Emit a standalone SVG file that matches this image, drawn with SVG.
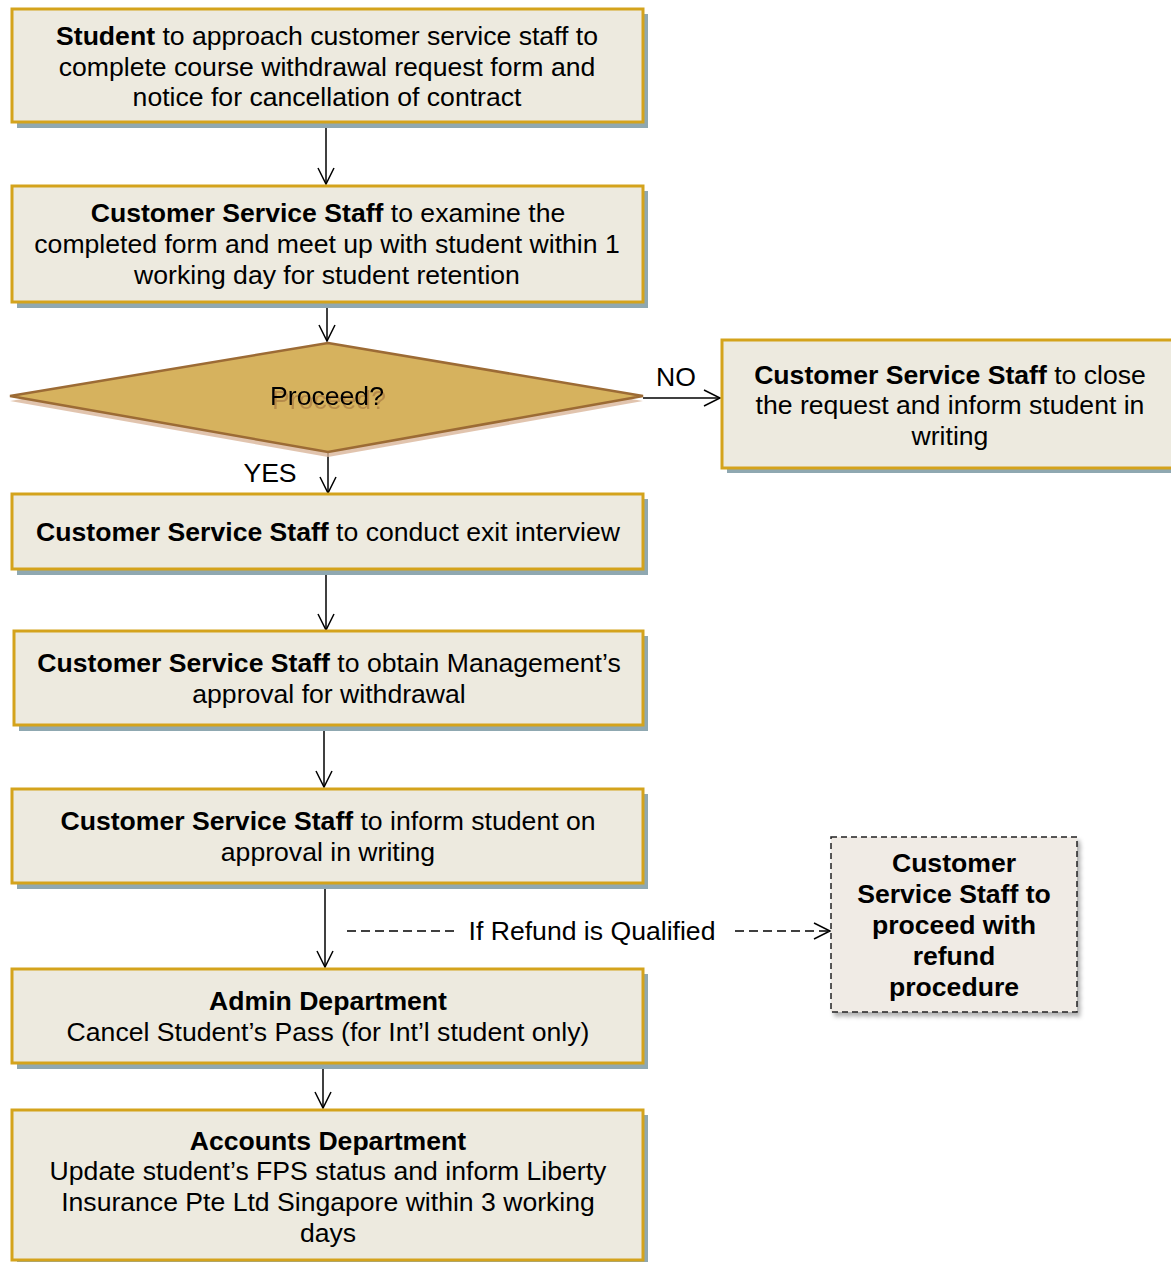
<svg xmlns="http://www.w3.org/2000/svg" width="1171" height="1262" viewBox="0 0 1171 1262">
<defs>
<style>
.box{fill:#edeadf;stroke:#d4a31c;stroke-width:3}
.shd{fill:#8fa8b1}
.t{font-family:"Liberation Sans",Arial,sans-serif;font-size:26.6px;fill:#000;text-anchor:middle}
.b{font-weight:bold}
.c{stroke:#000;stroke-width:1.5;fill:none}
.d{stroke:#000;stroke-width:1.5;fill:none;stroke-dasharray:9,5}
</style>
<marker id="ah" viewBox="0 0 20 20" refX="18" refY="10" markerWidth="20" markerHeight="20" markerUnits="userSpaceOnUse" orient="auto">
<path d="M2,2 L18,10 L2,18" fill="none" stroke="#000" stroke-width="1.5"/>
</marker>
<filter id="tsh" x="-20%" y="-50%" width="140%" height="200%">
<feDropShadow dx="2" dy="4" stdDeviation="0.6" flood-color="#a0703a" flood-opacity="0.6"/>
</filter>
<filter id="bsh" x="-10%" y="-10%" width="130%" height="130%">
<feDropShadow dx="3" dy="4" stdDeviation="2" flood-color="#000" flood-opacity="0.3"/>
</filter>
</defs>
<rect width="1171" height="1262" fill="#fff"/>
<g id="connectors">
<line class="c" x1="326" y1="122" x2="326" y2="184" marker-end="url(#ah)"/>
<line class="c" x1="327" y1="302" x2="327" y2="341" marker-end="url(#ah)"/>
<line class="c" x1="328" y1="452" x2="328" y2="493" marker-end="url(#ah)"/>
<line class="c" x1="643" y1="398" x2="720" y2="398" marker-end="url(#ah)"/>
<line class="c" x1="326" y1="569" x2="326" y2="630" marker-end="url(#ah)"/>
<line class="c" x1="324" y1="726" x2="324" y2="787" marker-end="url(#ah)"/>
<line class="c" x1="325" y1="883" x2="325" y2="967" marker-end="url(#ah)"/>
<line class="c" x1="323" y1="1064" x2="323" y2="1108" marker-end="url(#ah)"/>
<line class="d" x1="347" y1="931" x2="455" y2="931"/>
<line class="d" x1="735" y1="931" x2="830" y2="931" marker-end="url(#ah)"/>
<text class="t" x="676" y="386">NO</text>
<text class="t" x="270" y="482">YES</text>
<text class="t" x="592" y="940">If Refund is Qualified</text>
</g>
<g id="n1">
<rect class="shd" x="17" y="14" width="631" height="114"/>
<rect class="box" x="12" y="9" width="631" height="113"/>
<text class="t" x="327" y="45"><tspan class="b">Student</tspan> to approach customer service staff to</text>
<text class="t" x="327" y="76">complete course withdrawal request form and</text>
<text class="t" x="327" y="106">notice for cancellation of contract</text>
</g>
<g id="n2">
<rect class="shd" x="17" y="191" width="631" height="117"/>
<rect class="box" x="12" y="186" width="631" height="116"/>
<text class="t" x="328" y="222"><tspan class="b">Customer Service Staff</tspan> to examine the</text>
<text class="t" x="327" y="253">completed form and meet up with student within 1</text>
<text class="t" x="327" y="284">working day for student retention</text>
</g>
<g id="decision">
<polygon points="328,348 643,401 328,457 10,401" fill="#d9b59a" opacity="0.8"/>
<polygon points="328,343 643,396 328,452 10,396" fill="#d6b25e" stroke="#9c6b35" stroke-width="2.5"/>
<text class="t" x="327" y="405" filter="url(#tsh)">Proceed?</text>
</g>
<g id="n_close">
<rect class="shd" x="727" y="345" width="450" height="128"/>
<rect class="box" x="722" y="340" width="460" height="128"/>
<text class="t" x="950" y="384"><tspan class="b">Customer Service Staff</tspan> to close</text>
<text class="t" x="950" y="414">the request and inform student in</text>
<text class="t" x="950" y="445">writing</text>
</g>
<g id="n3">
<rect class="shd" x="17" y="499" width="631" height="76"/>
<rect class="box" x="12" y="494" width="631" height="75"/>
<text class="t" x="328" y="541"><tspan class="b">Customer Service Staff</tspan> to conduct exit interview</text>
</g>
<g id="n4">
<rect class="shd" x="19" y="636" width="629" height="95"/>
<rect class="box" x="14" y="631" width="629" height="94"/>
<text class="t" x="329" y="672"><tspan class="b">Customer Service Staff</tspan> to obtain Management’s</text>
<text class="t" x="329" y="703">approval for withdrawal</text>
</g>
<g id="n5">
<rect class="shd" x="17" y="794" width="631" height="95"/>
<rect class="box" x="12" y="789" width="631" height="94"/>
<text class="t" x="328" y="830"><tspan class="b">Customer Service Staff</tspan> to inform student on</text>
<text class="t" x="328" y="861">approval in writing</text>
</g>
<g id="n_refund">
<rect x="831" y="837" width="246" height="175" fill="#f0ebe5" stroke="#222" stroke-width="1.5" stroke-dasharray="6,4" filter="url(#bsh)"/>
<text class="t b" x="954" y="872">Customer</text>
<text class="t b" x="954" y="903">Service Staff to</text>
<text class="t b" x="954" y="934">proceed with</text>
<text class="t b" x="954" y="965">refund</text>
<text class="t b" x="954" y="996">procedure</text>
</g>
<g id="n6">
<rect class="shd" x="17" y="974" width="631" height="95"/>
<rect class="box" x="12" y="969" width="631" height="94"/>
<text class="t b" x="328" y="1010">Admin Department</text>
<text class="t" x="328" y="1041">Cancel Student’s Pass (for Int’l student only)</text>
</g>
<g id="n7">
<rect class="shd" x="17" y="1115" width="631" height="152"/>
<rect class="box" x="12" y="1110" width="631" height="150"/>
<text class="t b" x="328" y="1150">Accounts Department</text>
<text class="t" x="328" y="1180">Update student’s FPS status and inform Liberty</text>
<text class="t" x="328" y="1211">Insurance Pte Ltd Singapore within 3 working</text>
<text class="t" x="328" y="1242">days</text>
</g>
</svg>
